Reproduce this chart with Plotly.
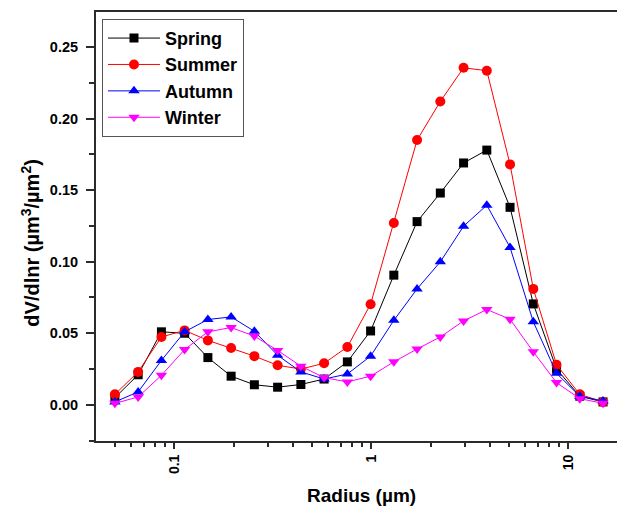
import plotly.graph_objects as go

# Particle radius bins (µm)
radius = [0.05, 0.0656, 0.0861, 0.1129, 0.1482, 0.1944, 0.2551, 0.3347, 0.4392,
          0.5762, 0.7561, 0.9920, 1.3016, 1.7078, 2.2407, 2.9400, 3.8575, 5.0613,
          6.6407, 8.7131, 11.4323, 15.0]

# Seasonal volume size distributions dV/dlnr (µm³/µm²)
spring = [0.005, 0.021, 0.051, 0.050, 0.033, 0.020, 0.014, 0.0123, 0.0142, 0.018,
          0.030, 0.0516, 0.0906, 0.128, 0.148, 0.169, 0.178, 0.138, 0.0705, 0.025,
          0.006, 0.002]
summer = [0.0073, 0.023, 0.0474, 0.052, 0.045, 0.0397, 0.034, 0.0276, 0.025, 0.029,
          0.0404, 0.0703, 0.127, 0.185, 0.212, 0.2355, 0.2335, 0.168, 0.081, 0.028,
          0.0073, 0.002]
autumn = [0.002, 0.009, 0.031, 0.051, 0.0596, 0.0614, 0.0514, 0.0346, 0.023, 0.018,
          0.0215, 0.034, 0.059, 0.081, 0.0999, 0.1248, 0.1395, 0.110, 0.058, 0.022,
          0.006, 0.0027]
winter = [0.001, 0.0055, 0.0206, 0.0386, 0.051, 0.054, 0.048, 0.038, 0.027, 0.019,
          0.016, 0.020, 0.030, 0.039, 0.0474, 0.0586, 0.0666, 0.0598, 0.037, 0.0155,
          0.0043, 0.001]

series = [
    ("Spring", spring, "#000000", "square", 9),
    ("Summer", summer, "#ff0000", "circle", 10),
    ("Autumn", autumn, "#0000ff", "triangle-up", 10),
    ("Winter", winter, "#ff00ff", "triangle-down", 10),
]

FONT = "Arial, Liberation Sans, sans-serif"
AXIS = "#2b2b2b"

fig = go.Figure()
for name, vals, color, symbol, size in series:
    fig.add_trace(go.Scatter(
        x=radius, y=vals, name=name, mode="lines+markers",
        line=dict(color=color, width=1),
        marker=dict(symbol=symbol, size=size, color=color, line=dict(width=0)),
    ))

fig.update_layout(
    width=617, height=506,
    margin=dict(l=96, r=0, t=12, b=65),
    paper_bgcolor="white", plot_bgcolor="white",
    font=dict(family=FONT, color="black"),
    showlegend=True,
    legend=dict(
        x=0.0115, y=0.984, xanchor="left", yanchor="top",
        bgcolor="white", bordercolor="#555555", borderwidth=1,
        font=dict(family=FONT, size=18, weight="bold", color="black"),
        itemwidth=52, tracegroupgap=0,
    ),
    xaxis=dict(
        type="log", range=[-1.397, 1.247],
        tickvals=[0.1, 1, 10], ticktext=["0.1", "1", "10"],
        tickangle=-90,
        ticks="outside", ticklen=6, tickwidth=1.5, tickcolor=AXIS,
        minor=dict(ticks="outside", ticklen=4, tickwidth=1.5, tickcolor=AXIS,
                   dtick="D1", showgrid=False),
        showline=True, linecolor=AXIS, linewidth=2, mirror=True,
        showgrid=False, zeroline=False,
        tickfont=dict(family=FONT, size=14, weight="bold", color="black"),
    ),
    yaxis=dict(
        range=[-0.0253, 0.2745],
        tickvals=[0, 0.05, 0.10, 0.15, 0.20, 0.25],
        ticktext=["0.00", "0.05", "0.10", "0.15", "0.20", "0.25"],
        ticks="outside", ticklen=8, tickwidth=1.5, tickcolor=AXIS,
        ticklabelstandoff=5,
        minor=dict(ticks="outside", ticklen=5, tickwidth=1.5, tickcolor=AXIS,
                   tick0=-0.025, dtick=0.05, showgrid=False),
        showline=True, linecolor=AXIS, linewidth=2,
        showgrid=False, zeroline=False,
        tickfont=dict(family=FONT, size=14.5, weight="bold", color="black"),
    ),
    annotations=[
        dict(text="Radius (µm)", xref="paper", yref="paper",
             x=0.509, y=-0.128, xanchor="center", yanchor="middle",
             showarrow=False,
             font=dict(family=FONT, size=19, weight="bold", color="black")),
        dict(text="dV/dlnr (µm<sup>3</sup>/µm<sup>2</sup>)", xref="paper", yref="paper",
             x=-0.125, y=0.462, xanchor="center", yanchor="middle",
             textangle=-90, showarrow=False,
             font=dict(family=FONT, size=20, weight="bold", color="black")),
    ],
)

fig.write_html("out.html")
